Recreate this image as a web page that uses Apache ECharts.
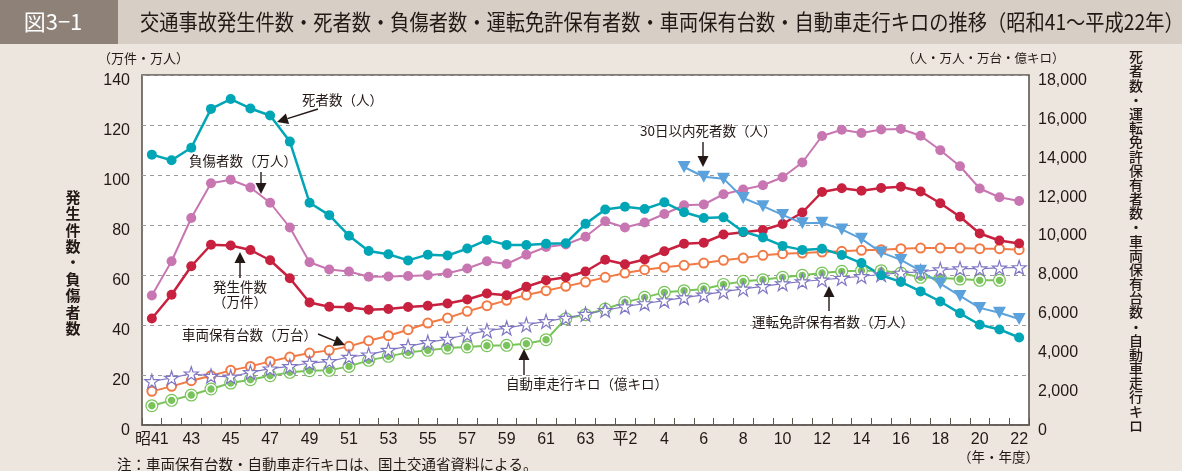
<!DOCTYPE html>
<html><head><meta charset="utf-8">
<script src="https://cdn.jsdelivr.net/npm/echarts@6/dist/echarts.min.js"></script>
<style>html,body{margin:0;padding:0;background:#ede6de;}#c{width:1182px;height:471px;}</style>
</head><body><div id="c"></div>
<script>
const categories = ['昭41','42','43','44','45','46','47','48','49','50','51','52','53','54','55','56','57','58','59','60','61','62','63','平元','平2','3','4','5','6','7','8','9','10','11','12','13','14','15','16','17','18','19','20','21','22'];
const deaths = [13904,13618,14256,16257,16765,16278,15918,14574,11432,10792,9734,8945,8783,8466,8760,8719,9073,9520,9262,9261,9317,9347,10344,11086,11227,11109,11451,10942,10649,10679,9943,9640,9211,9006,9066,8747,8326,7702,7358,6871,6352,5744,5155,4914,4500];
const injured = [51.8,65.5,82.8,96.7,98.1,95.0,88.9,79.0,65.1,62.2,61.4,59.3,59.4,59.6,59.9,60.7,62.6,65.5,64.4,68.1,71.2,72.2,75.3,81.5,79.0,81.0,84.4,87.9,88.2,92.3,94.2,95.9,99.1,105.0,115.6,118.1,116.8,118.2,118.4,115.7,109.9,103.5,94.6,91.1,89.6];
const accidents = [42.6,52.1,63.5,72.1,71.8,70.0,65.9,58.7,49.0,47.3,47.1,46.1,46.4,47.2,47.7,48.6,50.2,52.6,51.9,55.3,57.9,59.1,61.4,66.1,64.3,66.2,69.5,72.5,72.9,76.2,77.1,78.0,80.4,85.0,93.2,94.7,93.7,94.8,95.3,93.4,88.7,83.3,76.6,73.8,72.6];
const deaths30 = [null,null,null,null,null,null,null,null,null,null,null,null,null,null,null,null,null,null,null,null,null,null,null,null,null,null,null,13269,12768,12670,11674,11254,10805,10372,10403,10060,9575,8877,8492,7931,7272,6639,6023,5772,5450];
const vehicles = [1730,1987,2278,2535,2810,3015,3272,3496,3701,3838,4044,4335,4593,4901,5244,5501,5844,6136,6410,6684,6907,7130,7353,7593,7816,7987,8107,8210,8330,8467,8587,8724,8810,8844,8896,8930,8981,9016,9067,9101,9101,9101,9067,9067,9016];
const licenses = [2244,2416,2638,2520,2480,2707,2896,3015,3187,3272,3496,3615,3850,4044,4250,4421,4644,4850,4987,5158,5330,5501,5700,5900,6090,6250,6400,6550,6690,6856,7000,7130,7270,7380,7469,7550,7650,7740,7820,7880,7990,8040,8040,8080,8101];
const vehicleKm = [993,1267,1541,1850,2158,2330,2535,2707,2793,2810,3015,3324,3530,3736,3838,3958,4010,4078,4096,4181,4387,5470,5673,5964,6307,6564,6821,6907,6993,7230,7387,7473,7593,7696,7816,7901,7936,7936,7816,7593,7559,7507,7438,7438,null];
const leftTicks = {min:0,max:140,interval:20};
const rightTicks = {min:0,max:18000,interval:2000};

const INK = '#231815';
const JP = '"Noto Sans CJK JP","Noto Sans",sans-serif';
const NUM = '"Liberation Sans","Noto Sans CJK JP",sans-serif';
const starPath = 'path://M50,2 L61,36 L97,36 L68,57 L79,92 L50,71 L21,92 L32,57 L3,36 L39,36 Z';

function arrow(x1,y1,x2,y2){
  const dx=x2-x1, dy=y2-y1, L=Math.hypot(dx,dy), ux=dx/L, uy=dy/L, hl=11, hw=5.5;
  const bx=x2-ux*hl, by=y2-uy*hl;
  return [
    {type:'line', z:100, shape:{x1:x1,y1:y1,x2:bx,y2:by}, style:{stroke:INK,lineWidth:1.4}},
    {type:'polygon', z:100, shape:{points:[[x2,y2],[bx-uy*hw,by+ux*hw],[bx+uy*hw,by-ux*hw]]}, style:{fill:INK}}
  ];
}
function txt(x,y,t,opt){
  opt=opt||{};
  return {type:'text', z:100, x:x, y:y, scaleX:opt.sx||1, style:{text:t, fill:opt.fill||INK, fontSize:opt.fs||13.5, fontFamily:opt.ff||JP, fontWeight:opt.fw||'normal', align:opt.align||'left', verticalAlign:'middle'}};
}
function vtext(x,y0,step,s,opt){
  return Array.from(s).map(function(ch,i){ return txt(x,y0+step*i,ch,Object.assign({align:'center'},opt)); });
}
const titleText = '交通事故発生件数・死者数・負傷者数・運転免許保有者数・車両保有台数・自動車走行キロの推移（昭和41〜平成22年）';

const graphics = [
  {type:'rect', z:0, shape:{x:0,y:0,width:1182,height:44}, style:{fill:'#d7cec5'}},
  {type:'rect', z:1, shape:{x:0,y:0,width:118,height:44}, style:{fill:'#8d8178'}},
  txt(53,22,'図3−1',{fill:'#ffffff',fs:22,align:'center',sx:1.0}),
  txt(140,22,titleText,{fs:22,sx:0.875}),
  txt(98,58,'（万件・万人）',{fs:13}),
  txt(902,58,'（人・万人・万台・億キロ）',{fs:12.5}),
  txt(958,457,'（年・年度）',{fs:13.5}),
  txt(117,464,'注：車両保有台数・自動車走行キロは、国土交通省資料による。',{fs:14.5}),
  txt(302,100,'死者数（人）'),
  txt(189,161,'負傷者数（万人）'),
  txt(240,287,'発生件数',{align:'center'}),
  txt(240,302,'（万件）',{align:'center'}),
  txt(182,335,'車両保有台数（万台）'),
  txt(506,384,'自動車走行キロ（億キロ）'),
  txt(752,322,'運転免許保有者数（万人）'),
  txt(640,131,'30日以内死者数（人）')
].concat(
  vtext(73,197,16.4,'発生件数・負傷者数',{fs:15,fw:'bold'}),
  vtext(1136,57,14.17,'死者数・運転免許保有者数・車両保有台数・自動車走行キロ',{fs:14,fw:'500'}),
  arrow(318,109,277,122),
  arrow(261,172,261,194),
  arrow(240,278,240,252),
  arrow(318,334,345,345),
  arrow(524,375,524,349),
  arrow(829,311,829,286),
  arrow(703,142,703,167)
);

const chart = echarts.init(document.getElementById('c'), null, {renderer:'canvas'});
chart.setOption({
  backgroundColor:'#ede6de',
  animation:false,
  grid:{left:142,right:153,top:75,bottom:46,show:true,backgroundColor:'#ffffff',borderColor:'#5d5751',borderWidth:1.6},
  xAxis:{type:'category',data:categories,boundaryGap:true,
    axisLine:{show:true,lineStyle:{color:'#5d5751',width:1.6}},
    axisTick:{show:true,inside:true,length:7,interval:0,lineStyle:{color:'#5d5751',width:1}},
    axisLabel:{interval:1,color:INK,fontSize:16,fontFamily:NUM,margin:7}},
  yAxis:[
    {type:'value',min:leftTicks.min,max:leftTicks.max,interval:leftTicks.interval,
     axisLine:{show:false},axisTick:{show:false},
     axisLabel:{color:INK,fontSize:16,fontFamily:NUM,margin:12,verticalAlign:'top',lineHeight:11},
     splitLine:{show:true,lineStyle:{color:'#9a9a9a',type:[4,4],width:1}}},
    {type:'value',min:rightTicks.min,max:rightTicks.max,interval:rightTicks.interval,
     axisLine:{show:false},axisTick:{show:false},splitLine:{show:false},
     axisLabel:{color:INK,fontSize:16,fontFamily:NUM,margin:9,verticalAlign:'top',lineHeight:11,
       formatter:function(v){return v.toLocaleString('en-US');}}}
  ],
  series:[
    {name:'車両保有台数',type:'line',yAxisIndex:1,data:vehicles,symbol:'circle',symbolSize:9,showAllSymbol:true,
     lineStyle:{color:'#f27a45',width:2},itemStyle:{color:'#ffffff',borderColor:'#f27a45',borderWidth:2}},
    {name:'自動車走行キロ',type:'line',yAxisIndex:1,data:vehicleKm,symbol:'circle',symbolSize:13,showAllSymbol:true,
     lineStyle:{color:'#78c35a',width:2},itemStyle:{color:'#78c35a'}},
    {name:'走行キロmarker',type:'line',yAxisIndex:1,data:vehicleKm,symbol:'circle',symbolSize:9,showAllSymbol:true,
     lineStyle:{opacity:0},itemStyle:{color:'#78c35a',borderColor:'#ffffff',borderWidth:1.6}},
    {name:'運転免許保有者数',type:'line',yAxisIndex:1,data:licenses,symbol:starPath,symbolSize:14,showAllSymbol:true,
     lineStyle:{color:'#8077c4',width:1.2},itemStyle:{color:'#ffffff',borderColor:'#8077c4',borderWidth:1.2}},
    {name:'発生件数',type:'line',yAxisIndex:0,data:accidents,symbol:'circle',symbolSize:10,showAllSymbol:true,
     lineStyle:{color:'#c8203f',width:2.5},itemStyle:{color:'#c8203f'}},
    {name:'負傷者数',type:'line',yAxisIndex:0,data:injured,symbol:'circle',symbolSize:10,showAllSymbol:true,
     lineStyle:{color:'#c876b2',width:2},itemStyle:{color:'#c876b2'}},
    {name:'死者数',type:'line',yAxisIndex:1,data:deaths,symbol:'circle',symbolSize:10,showAllSymbol:true,
     lineStyle:{color:'#00a6b6',width:2.5},itemStyle:{color:'#00a6b6'}},
    {name:'30日以内死者数',type:'line',yAxisIndex:1,data:deaths30,symbol:'triangle',symbolRotate:180,symbolSize:[13,12],showAllSymbol:true,
     lineStyle:{color:'#5ba2dc',width:2},itemStyle:{color:'#5ba2dc'}}
  ],
  graphic:graphics
});
</script></body></html>
